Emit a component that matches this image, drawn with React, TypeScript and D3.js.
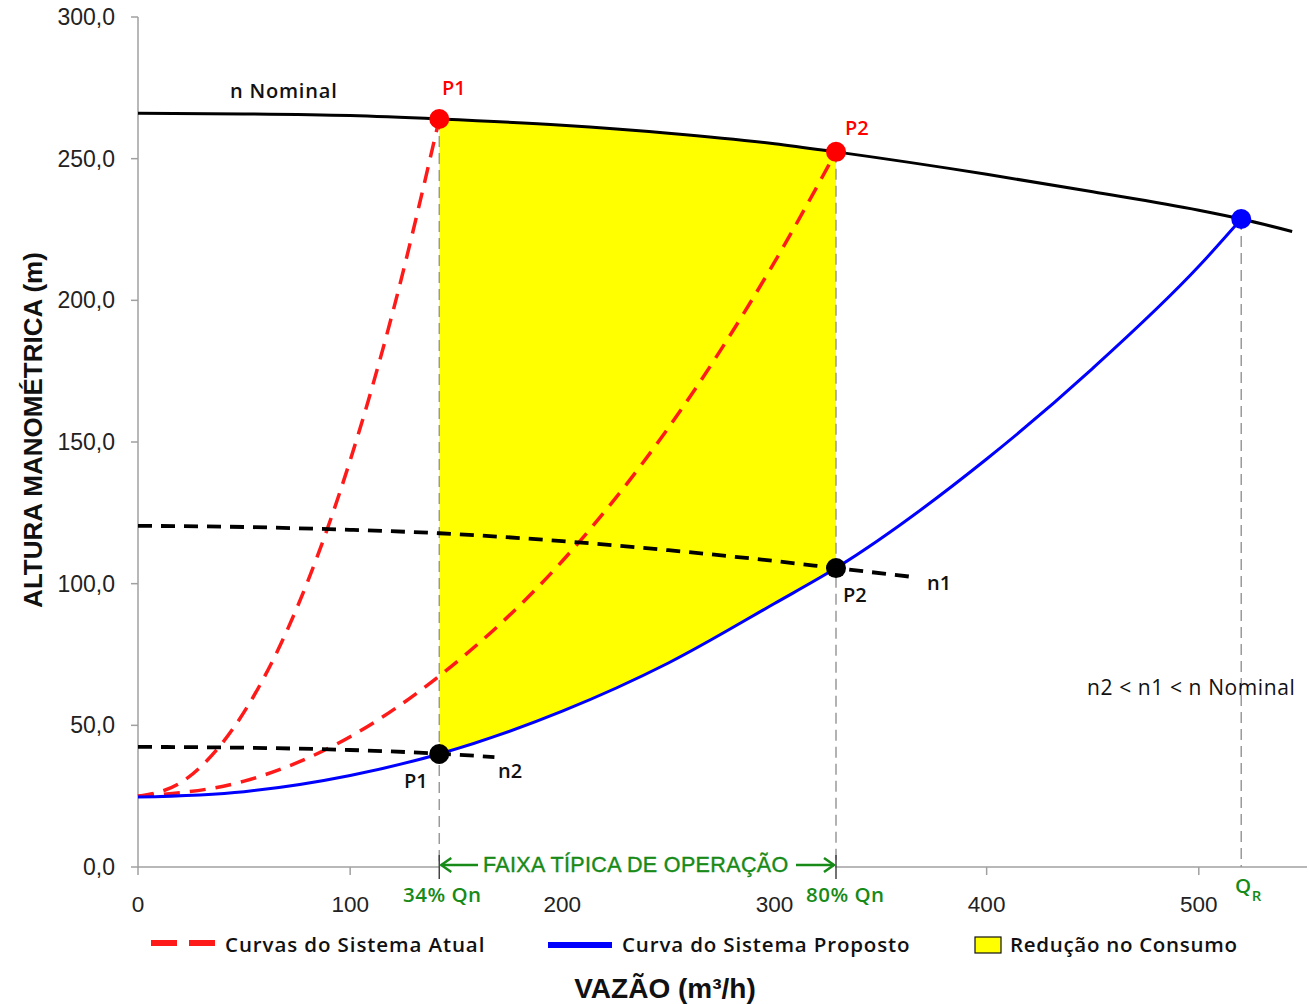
import React from "react";
import * as d3 from "d3";

// ---- data ----
const X_TICKS = [0, 100, 200, 300, 400, 500];
const Y_TICKS = [0, 50, 100, 150, 200, 250, 300];

// Pump curve at nominal speed
const NOMINAL_Q = [0, 50, 100, 142, 200, 250, 300, 329, 400, 450, 500, 520, 544];
const NOMINAL_H = [266.0, 265.8, 265.2, 264.0, 261.8, 259.0, 255.3, 252.4, 244.5, 238.3, 231.8, 228.7, 224.3];

// Proposed system curve (blue)
const PROP_Q = [0, 50, 100, 142, 200, 250, 300, 329, 400, 450, 500, 520];
const PROP_H = [24.7, 26.6, 32.3, 39.9, 55.0, 72.0, 93.0, 105.5, 144.0, 176.0, 212.0, 228.7];

// Current system curves (red dashed)
const ATUAL1_Q = [0, 20, 40, 60, 80, 100, 120, 142];
const ATUAL1_H = [25.0, 29.7, 44.0, 67.7, 100.8, 143.5, 195.6, 264.0];
const ATUAL2_Q = [0, 50, 100, 142, 200, 250, 300, 329];
const ATUAL2_H = [25.0, 30.3, 46.0, 67.4, 108.0, 155.0, 213.5, 252.4];

// Reduced speed pump curves (black dashed)
const N1_Q = [0, 50, 100, 142, 200, 250, 300, 329, 366];
const N1_H = [120.4, 120.0, 119.0, 117.8, 115.0, 111.8, 108.0, 105.5, 102.3];
const N2_Q = [0, 50, 100, 142, 168];
const N2_H = [42.4, 42.1, 41.3, 40.0, 38.8];

// Shaded region (reduction in consumption)
const AREA_Q = [142, 200, 250, 300, 329];
const AREA_TOP = [264.0, 261.8, 259.0, 255.3, 252.4];
const AREA_BOTTOM = [39.9, 55.0, 72.0, 93.0, 105.5];

// Key points
const Q_P1 = 142;
const Q_P2 = 329;
const Q_R = 520;
const H_P1_NOM = 264.0;
const H_P2_NOM = 252.4;
const H_P1_PROP = 39.9;
const H_P2_PROP = 105.5;
const H_R = 228.7;

const W = 1309;
const H = 1004;
const GREEN = "#178a17";
const TXT = "Open Sans, Liberation Sans, sans-serif";
const ARIAL = "Liberation Sans, Arial, sans-serif";

const zip = (q: number[], h: number[]) => q.map((v, i) => [v, h[i]] as [number, number]);

export default function App() {
  const x = d3.scaleLinear().domain([0, 551]).range([138, 1307]);
  const y = d3.scaleLinear().domain([0, 300]).range([867, 17]);

  const line = d3
    .line<[number, number]>()
    .x((d) => x(d[0]))
    .y((d) => y(d[1]))
    .curve(d3.curveMonotoneX);

  const area = d3
    .area<number>()
    .x((d) => x(d))
    .y0((_, i) => y(AREA_BOTTOM[i]))
    .y1((_, i) => y(AREA_TOP[i]))
    .curve(d3.curveMonotoneX);

  const axisCol = "#a0a0a0";
  const vlines = [
    { q: Q_P1, h: H_P1_NOM },
    { q: Q_P2, h: H_P2_NOM },
    { q: Q_R, h: H_R },
  ];

  return (
    <svg
      width={W}
      height={H}
      style={{ position: "absolute", left: 0, top: 0, background: "#fff" }}
    >
      <rect x={0} y={0} width={W} height={H} fill="#fff" />
      {/* shaded area */}
      <path d={area(AREA_Q) || ""} fill="#ffff00" stroke="none" />

      {/* axes */}
      <line x1={x(0)} x2={x(0)} y1={y(300)} y2={y(0)} stroke={axisCol} strokeWidth={1.5} />
      <line x1={x(0)} x2={x(551)} y1={y(0)} y2={y(0)} stroke={axisCol} strokeWidth={1.5} />
      {Y_TICKS.map((t) => (
        <g key={"y" + t}>
          <line x1={x(0) - 7} x2={x(0)} y1={y(t)} y2={y(t)} stroke={axisCol} strokeWidth={1.5} />
          <text
            x={115}
            y={y(t) + 8}
            textAnchor="end"
            fontFamily={ARIAL}
            fontSize={23}
            fill="#222"
          >
            {t.toFixed(1).replace(".", ",")}
          </text>
        </g>
      ))}
      {X_TICKS.map((t) => (
        <g key={"x" + t}>
          <line x1={x(t)} x2={x(t)} y1={y(0)} y2={y(0) + 8} stroke={axisCol} strokeWidth={1.5} />
          <text
            x={x(t)}
            y={912}
            textAnchor="middle"
            fontFamily={ARIAL}
            fontSize={22.5}
            fill="#222"
          >
            {t}
          </text>
        </g>
      ))}

      {/* vertical dashed guides */}
      {vlines.map((v, i) => (
        <line
          key={"v" + i}
          x1={x(v.q)}
          x2={x(v.q)}
          y1={y(v.h)}
          y2={y(0)}
          stroke="#9a9a9a"
          strokeWidth={1.5}
          strokeDasharray="11 6"
        />
      ))}

      {/* curves */}
      <path d={line(zip(ATUAL1_Q, ATUAL1_H)) || ""} fill="none" stroke="#ff1a1a" strokeWidth={3.5} strokeDasharray="16 10" />
      <path d={line(zip(ATUAL2_Q, ATUAL2_H)) || ""} fill="none" stroke="#ff1a1a" strokeWidth={3.5} strokeDasharray="16 10" />
      <path d={line(zip(N1_Q, N1_H)) || ""} fill="none" stroke="#000" strokeWidth={3.8} strokeDasharray="14 9" />
      <path d={line(zip(N2_Q, N2_H)) || ""} fill="none" stroke="#000" strokeWidth={3.8} strokeDasharray="14 9" />
      <path d={line(zip(PROP_Q, PROP_H)) || ""} fill="none" stroke="#0000ff" strokeWidth={3} />
      <path d={line(zip(NOMINAL_Q, NOMINAL_H)) || ""} fill="none" stroke="#000" strokeWidth={3} />

      {/* points */}
      <circle cx={x(Q_P1)} cy={y(H_P1_NOM)} r={10} fill="#ff0000" />
      <circle cx={x(Q_P2)} cy={y(H_P2_NOM)} r={10} fill="#ff0000" />
      <circle cx={x(Q_P1)} cy={y(H_P1_PROP)} r={10} fill="#000" />
      <circle cx={x(Q_P2)} cy={y(H_P2_PROP)} r={10} fill="#000" />
      <circle cx={x(Q_R)} cy={y(H_R)} r={10} fill="#0000ff" />

      {/* point labels */}
      <g fontFamily={TXT} fontWeight={600} fontSize={20}>
        <text x={230} y={98} fill="#111" letterSpacing={0.8}>n Nominal</text>
        <text x={442} y={95} fill="#ff0000">P1</text>
        <text x={845} y={135} fill="#ff0000">P2</text>
        <text x={843} y={602} fill="#111">P2</text>
        <text x={927} y={590} fill="#111">n1</text>
        <text x={404} y={788} fill="#111">P1</text>
        <text x={498} y={778} fill="#111">n2</text>
      </g>
      <text x={1087} y={695} fontFamily={TXT} fontWeight={500} fontSize={21} letterSpacing={0.6} fill="#111">
        n2 &lt; n1 &lt; n Nominal
      </text>

      {/* operation range */}
      <rect x={x(Q_P1) + 1} y={855} width={x(Q_P2) - x(Q_P1) - 2} height={20} fill="#fff" />
      {[Q_P1, Q_P2].map((q, i) => (
        <line key={"tk" + i} x1={x(q)} x2={x(q)} y1={855} y2={879} stroke="#444" strokeWidth={1.5} />
      ))}
      <g stroke={GREEN} strokeWidth={2.5} fill="none">
        <line x1={x(Q_P1) + 2} x2={478} y1={865} y2={865} />
        <polyline points={`${x(Q_P1) + 12},${858} ${x(Q_P1) + 2},${865} ${x(Q_P1) + 12},${872}`} />
        <line x1={796} x2={x(Q_P2) - 2} y1={865} y2={865} />
        <polyline points={`${x(Q_P2) - 12},${858} ${x(Q_P2) - 2},${865} ${x(Q_P2) - 12},${872}`} />
      </g>
      <text x={483} y={872} fontFamily={ARIAL} fontSize={21.5} letterSpacing={0.35} fill={GREEN} stroke={GREEN} strokeWidth={0.4}>
        FAIXA TÍPICA DE OPERAÇÃO
      </text>
      <g fontFamily={TXT} fontWeight={600} fontSize={20.5} fill={GREEN} letterSpacing={0.5}>
        <text x={403} y={902}>34% Qn</text>
        <text x={806} y={902}>80% Qn</text>
        <text x={1235} y={893}>
          Q<tspan fontSize={15} dy={8}>R</tspan>
        </text>
      </g>

      {/* legend */}
      <g>
        <line x1={151} x2={177} y1={943} y2={943} stroke="#ff1a1a" strokeWidth={6} />
        <line x1={189} x2={215} y1={943} y2={943} stroke="#ff1a1a" strokeWidth={6} />
        <text x={225} y={952} fontFamily={TXT} fontWeight={600} fontSize={20.5} letterSpacing={0.9} fill="#111">
          Curvas do Sistema Atual
        </text>
        <line x1={548} x2={612} y1={945} y2={945} stroke="#0000ff" strokeWidth={6} />
        <text x={622} y={952} fontFamily={TXT} fontWeight={600} fontSize={20.5} letterSpacing={0.85} fill="#111">
          Curva do Sistema Proposto
        </text>
        <rect x={975} y={937} width={26} height={16} fill="#ffff00" stroke="#111" strokeWidth={1.2} />
        <text x={1010} y={952} fontFamily={TXT} fontWeight={600} fontSize={20.5} letterSpacing={0.7} fill="#111">
          Redução no Consumo
        </text>
      </g>

      {/* axis titles */}
      <text
        transform={`translate(42, 430) rotate(-90)`}
        textAnchor="middle"
        fontFamily={ARIAL}
        fontWeight="bold"
        fontSize={26}
        fill="#111"
      >
        ALTURA MANOMÉTRICA (m)
      </text>
      <text
        x={665}
        y={998}
        textAnchor="middle"
        fontFamily={ARIAL}
        fontWeight="bold"
        fontSize={28}
        fill="#111"
      >
        VAZÃO (m³/h)
      </text>
    </svg>
  );
}
